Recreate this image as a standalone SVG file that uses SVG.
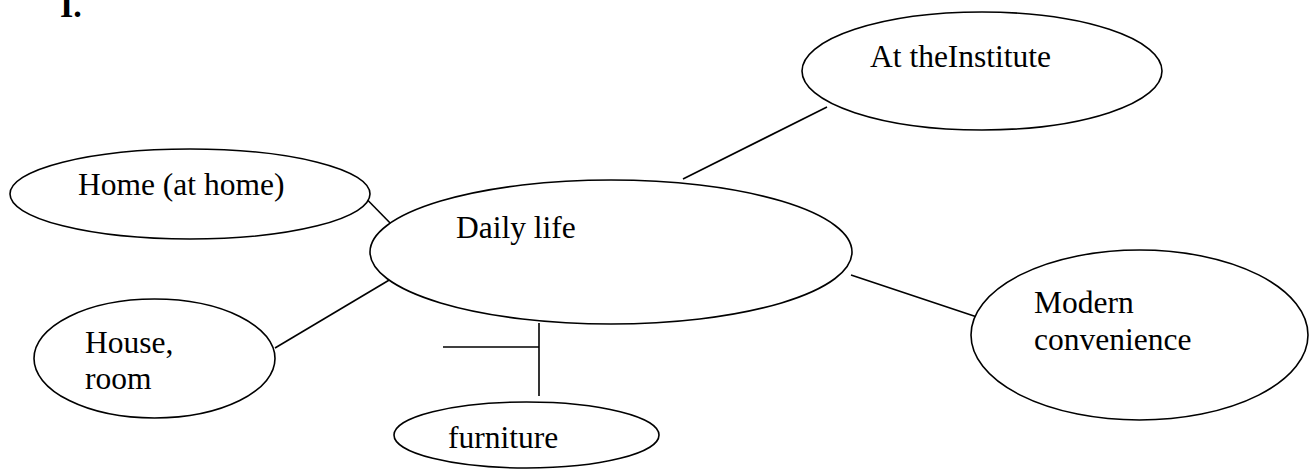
<svg xmlns="http://www.w3.org/2000/svg" width="1312" height="470" viewBox="0 0 1312 470">
  <style>
    .shape { fill: #ffffff; stroke: #000000; stroke-width: 1.6; }
    .link { stroke: #000000; stroke-width: 1.6; fill: none; }
    .label { font-family: "Liberation Serif", "Times New Roman", serif; font-size: 31.5px; fill: #000000; }
    .heading { font-family: "Liberation Serif", "Times New Roman", serif; font-size: 34px; font-weight: bold; fill: #000000; }
  </style>
  <rect width="1312" height="470" fill="#ffffff"/>

  <text class="heading" x="60" y="17">I.</text>

  <!-- connectors between the central topic and its branches -->
  <g id="connectors">
    <line class="link" x1="347" y1="179" x2="395" y2="228"/>
    <line class="link" x1="396" y1="276" x2="275" y2="348"/>
    <line class="link" x1="683" y1="179" x2="827" y2="107"/>
    <line class="link" x1="851" y1="275" x2="995" y2="323"/>
    <line class="link" x1="539" y1="323" x2="539" y2="396"/>
    <line class="link" x1="443" y1="347" x2="539" y2="347"/>
  </g>

  <g id="node-institute">
    <ellipse class="shape" cx="982" cy="71" rx="180" ry="59"/>
    <text class="label" x="870" y="67">At theInstitute</text>
  </g>

  <g id="node-home">
    <ellipse class="shape" cx="190" cy="194" rx="180" ry="45"/>
    <text class="label" x="78" y="195">Home (at home)</text>
  </g>

  <g id="node-daily-life">
    <ellipse class="shape" cx="611" cy="252" rx="241" ry="72"/>
    <text class="label" x="456" y="238">Daily life</text>
  </g>

  <g id="node-house">
    <ellipse class="shape" cx="154.5" cy="358.5" rx="120.5" ry="59.5"/>
    <text class="label" x="85" y="353">House,</text>
    <text class="label" x="85" y="389">room</text>
  </g>

  <g id="node-modern">
    <ellipse class="shape" cx="1139.5" cy="335" rx="168.5" ry="85"/>
    <text class="label" x="1034" y="313">Modern</text>
    <text class="label" x="1034" y="350">convenience</text>
  </g>

  <g id="node-furniture">
    <ellipse class="shape" cx="526.5" cy="435" rx="132.5" ry="33"/>
    <text class="label" x="448" y="448">furniture</text>
  </g>
</svg>
